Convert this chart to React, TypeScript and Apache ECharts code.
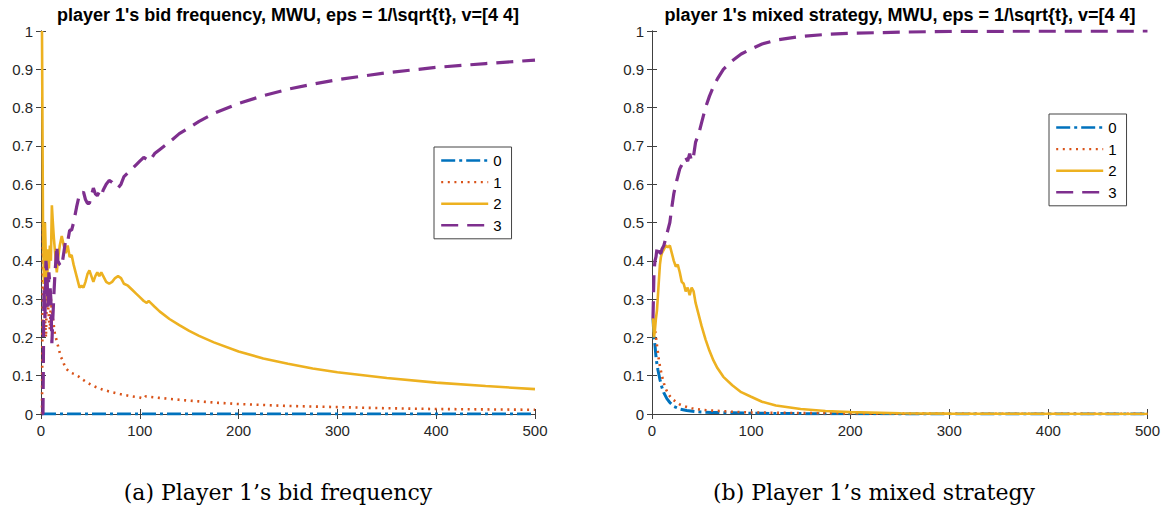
import React, { useEffect, useRef } from "react";
import * as echarts from "echarts";

const legendNames = ["0", "1", "2", "3"];
const chartTitles = [
  "player 1's bid frequency, MWU, eps = 1/\\sqrt{t}, v=[4 4]",
  "player 1's mixed strategy, MWU, eps = 1/\\sqrt{t}, v=[4 4]",
];
const captions = ["(a) Player 1\u2019s bid frequency", "(b) Player 1\u2019s mixed strategy"];

// Left panel: bid frequency
const bidFreq0 = [[1, 0], [100, 0], [200, 0], [300, 0], [400, 0], [500, 0]];
const bidFreq1 = [
  [1, 0], [2, 0.5], [3, 0.33], [4, 0.25], [5, 0.2], [6, 0.33], [7, 0.29], [8, 0.25], [9, 0.22], [10, 0.3],
  [11, 0.27], [12, 0.25], [13, 0.23], [14, 0.21], [16, 0.19], [18, 0.17], [20, 0.15], [22, 0.14], [24, 0.125],
  [26, 0.117], [28, 0.112], [31, 0.107], [34, 0.104], [38, 0.098], [42, 0.09], [48, 0.08], [55, 0.071],
  [62, 0.064], [70, 0.058], [80, 0.052], [90, 0.047], [100, 0.043], [104, 0.04], [106, 0.046], [110, 0.045],
  [120, 0.042], [140, 0.037], [160, 0.033], [180, 0.029], [200, 0.026], [250, 0.021], [300, 0.018],
  [350, 0.015], [400, 0.013], [450, 0.012], [500, 0.011],
];
const bidFreq2 = [
  [1, 1], [2, 0.5], [3, 0.34], [4, 0.5], [5, 0.4], [6, 0.3], [7, 0.43], [8, 0.38], [9, 0.44], [10, 0.4],
  [11, 0.545], [12, 0.5], [13, 0.46], [14, 0.43], [15, 0.4], [16, 0.37], [17, 0.4], [19, 0.44], [21, 0.465],
  [23, 0.44], [25, 0.42], [27, 0.44], [29, 0.41], [31, 0.415], [33, 0.39], [36, 0.36], [39, 0.33], [41, 0.335],
  [43, 0.33], [45, 0.345], [47, 0.365], [49, 0.375], [51, 0.36], [53, 0.345], [55, 0.36], [57, 0.37],
  [59, 0.36], [61, 0.37], [63, 0.36], [66, 0.345], [69, 0.34], [72, 0.345], [75, 0.355], [78, 0.36],
  [81, 0.355], [84, 0.34], [88, 0.335], [92, 0.325], [96, 0.315], [100, 0.305], [104, 0.295], [107, 0.29],
  [109, 0.295], [111, 0.29], [115, 0.28], [120, 0.268], [130, 0.248], [140, 0.232], [150, 0.217],
  [160, 0.204], [175, 0.187], [200, 0.163], [225, 0.145], [250, 0.131], [275, 0.119], [300, 0.109],
  [350, 0.094], [400, 0.082], [450, 0.073], [500, 0.065],
];
const bidFreq3 = [
  [1, 0], [2, 0], [3, 0.33], [4, 0.25], [5, 0.4], [6, 0.37], [7, 0.28], [8, 0.37], [9, 0.34], [10, 0.3],
  [11, 0.185], [12, 0.25], [13, 0.31], [14, 0.36], [15, 0.4], [16, 0.44], [17, 0.4], [19, 0.39], [21, 0.385],
  [23, 0.42], [25, 0.455], [27, 0.45], [29, 0.48], [31, 0.48], [33, 0.5], [36, 0.54], [39, 0.575],
  [41, 0.575], [43, 0.58], [45, 0.56], [47, 0.55], [49, 0.55], [51, 0.57], [53, 0.59], [55, 0.575],
  [57, 0.57], [59, 0.58], [61, 0.57], [63, 0.585], [66, 0.6], [69, 0.61], [72, 0.605], [75, 0.595],
  [78, 0.59], [81, 0.6], [84, 0.62], [88, 0.63], [92, 0.64], [96, 0.65], [100, 0.66], [104, 0.67],
  [107, 0.665], [109, 0.66], [111, 0.665], [115, 0.68], [120, 0.69], [130, 0.71], [140, 0.732],
  [150, 0.748], [160, 0.764], [175, 0.785], [200, 0.811], [225, 0.831], [250, 0.848], [275, 0.861],
  [300, 0.873], [350, 0.891], [400, 0.905], [450, 0.915], [500, 0.924],
];

// Right panel: mixed strategy
const mixed0 = [
  [1, 0.25], [2, 0.2], [3, 0.18], [4, 0.15], [5, 0.13], [6, 0.115], [8, 0.09], [10, 0.07], [12, 0.055],
  [15, 0.04], [18, 0.03], [22, 0.02], [28, 0.013], [35, 0.009], [45, 0.006], [60, 0.004], [80, 0.003],
  [100, 0.002], [150, 0.001], [250, 0.0003], [500, 0],
];
const mixed1 = [
  [1, 0.25], [2, 0.235], [3, 0.22], [4, 0.2], [5, 0.18], [6, 0.16], [7, 0.14], [8, 0.125], [10, 0.1],
  [12, 0.08], [14, 0.065], [17, 0.05], [20, 0.04], [24, 0.032], [28, 0.025], [33, 0.02], [40, 0.015],
  [50, 0.011], [60, 0.009], [80, 0.006], [100, 0.004], [130, 0.003], [170, 0.002], [250, 0.001], [500, 0.0002],
];
const mixed2 = [
  [1, 0.25], [2, 0.2], [3, 0.22], [4, 0.25], [5, 0.27], [6, 0.31], [7, 0.35], [8, 0.39], [9, 0.41],
  [10, 0.42], [12, 0.43], [14, 0.44], [16, 0.435], [18, 0.44], [20, 0.42], [22, 0.4], [24, 0.385],
  [26, 0.39], [28, 0.37], [30, 0.345], [32, 0.34], [34, 0.32], [36, 0.33], [38, 0.31], [40, 0.33],
  [42, 0.32], [44, 0.29], [47, 0.26], [50, 0.23], [54, 0.195], [58, 0.165], [62, 0.14], [66, 0.12],
  [72, 0.097], [81, 0.075], [90, 0.057], [100, 0.045], [111, 0.032], [125, 0.022], [150, 0.013],
  [175, 0.008], [200, 0.005], [250, 0.002], [300, 0.001], [500, 0],
];
const mixed3 = [
  [1, 0.25], [2, 0.37], [3, 0.4], [4, 0.41], [5, 0.43], [6, 0.42], [7, 0.43], [8, 0.42], [9, 0.42],
  [10, 0.43], [12, 0.44], [14, 0.46], [16, 0.48], [18, 0.5], [20, 0.54], [22, 0.575], [24, 0.6],
  [26, 0.62], [28, 0.64], [30, 0.65], [32, 0.66], [34, 0.67], [36, 0.66], [38, 0.68], [40, 0.66],
  [42, 0.675], [44, 0.71], [47, 0.73], [50, 0.76], [54, 0.8], [58, 0.83], [62, 0.855], [66, 0.875],
  [72, 0.9], [81, 0.922], [90, 0.94], [100, 0.953], [111, 0.966], [125, 0.976], [150, 0.986],
  [175, 0.991], [200, 0.994], [250, 0.997], [300, 0.999], [500, 1],
];

const colors = ["#0072BD", "#D95319", "#EDB120", "#7E2F8E"];
const dashes: any[] = [[14, 4, 3, 4], [2, 4.6], "solid", [17, 9]];
const widths = [3, 2.6, 2.6, 3.2];

const AXIS_COLOR = "#404040";
const FONT = "Liberation Sans";

export default function App() {
  const ref = useRef<HTMLDivElement>(null);

  useEffect(() => {
    if (!ref.current) return;
    const chart = echarts.init(ref.current, undefined, { renderer: "svg" });

    const grids = [
      { left: 41, top: 31, width: 494, height: 383 },
      { left: 652, top: 31, width: 496, height: 383 },
    ];
    const panels = [
      [bidFreq0, bidFreq1, bidFreq2, bidFreq3],
      [mixed0, mixed1, mixed2, mixed3],
    ];

    const xAxis: any[] = [];
    const yAxis: any[] = [];
    grids.forEach((_, g) => {
      const common = {
        gridIndex: g,
        type: "value",
        axisLine: { show: true, lineStyle: { color: AXIS_COLOR, width: 1 } },
        axisTick: { show: true, inside: true, length: 5, lineStyle: { color: AXIS_COLOR } },
        splitLine: { show: false },
      };
      xAxis.push({
        ...common, position: "bottom", min: 0, max: 500, interval: 100,
        axisLabel: { show: true, margin: 9, fontSize: 15, color: "#262626", fontFamily: FONT },
      });
      xAxis.push({ ...common, position: "top", min: 0, max: 500, interval: 100, axisLabel: { show: false } });
      yAxis.push({
        ...common, position: "left", min: 0, max: 1, interval: 0.1,
        axisLabel: { show: true, margin: 8, fontSize: 15, color: "#262626", fontFamily: FONT },
      });
      yAxis.push({ ...common, position: "right", min: 0, max: 1, interval: 0.1, axisLabel: { show: false } });
    });

    const series: any[] = [];
    panels.forEach((panel, g) => {
      panel.forEach((data, i) => {
        series.push({
          name: legendNames[i],
          type: "line",
          xAxisIndex: 2 * g,
          yAxisIndex: 2 * g,
          data,
          symbol: "none",
          showSymbol: false,
          color: colors[i],
          lineStyle: { color: colors[i], width: widths[i], type: dashes[i], cap: "butt" },
          clip: true,
        });
      });
    });

    const legendCommon = {
      orient: "vertical",
      data: legendNames,
      itemWidth: 47,
      itemHeight: 12,
      itemGap: 6.6,
      padding: [6, 10, 6, 6],
      backgroundColor: "#fff",
      borderColor: "#444",
      borderWidth: 1,
      borderRadius: 0,
      selectedMode: false,
      itemStyle: { opacity: 0, borderWidth: 0 },
      lineStyle: { width: 2.4 },
      textStyle: { fontSize: 15, color: "#000", fontFamily: FONT },
    };

    chart.setOption({
      animation: false,
      backgroundColor: "#fff",
      title: chartTitles.map((t, g) => ({
        text: t,
        left: grids[g].left + grids[g].width / 2,
        textAlign: "center",
        top: 6,
        padding: 0,
        textStyle: { fontSize: 18, fontWeight: "bold", color: "#000", fontFamily: FONT },
      })),
      grid: grids,
      xAxis,
      yAxis,
      legend: [
        { ...legendCommon, left: 434, top: 147 },
        { ...legendCommon, left: 1049, top: 114 },
      ],
      graphic: captions.map((c, g) => ({
        type: "text",
        x: g === 0 ? 278 : 874,
        y: 492,
        style: {
          text: c,
          fontSize: 22,
          fontFamily: "DejaVu Serif",
          fill: "#000",
          textAlign: "center",
          textVerticalAlign: "middle",
        },
      })),
      series,
    });

    return () => chart.dispose();
  }, []);

  return (
    <div
      ref={ref}
      style={{ position: "fixed", left: 0, top: 0, width: 1163, height: 510, background: "#fff" }}
    />
  );
}
